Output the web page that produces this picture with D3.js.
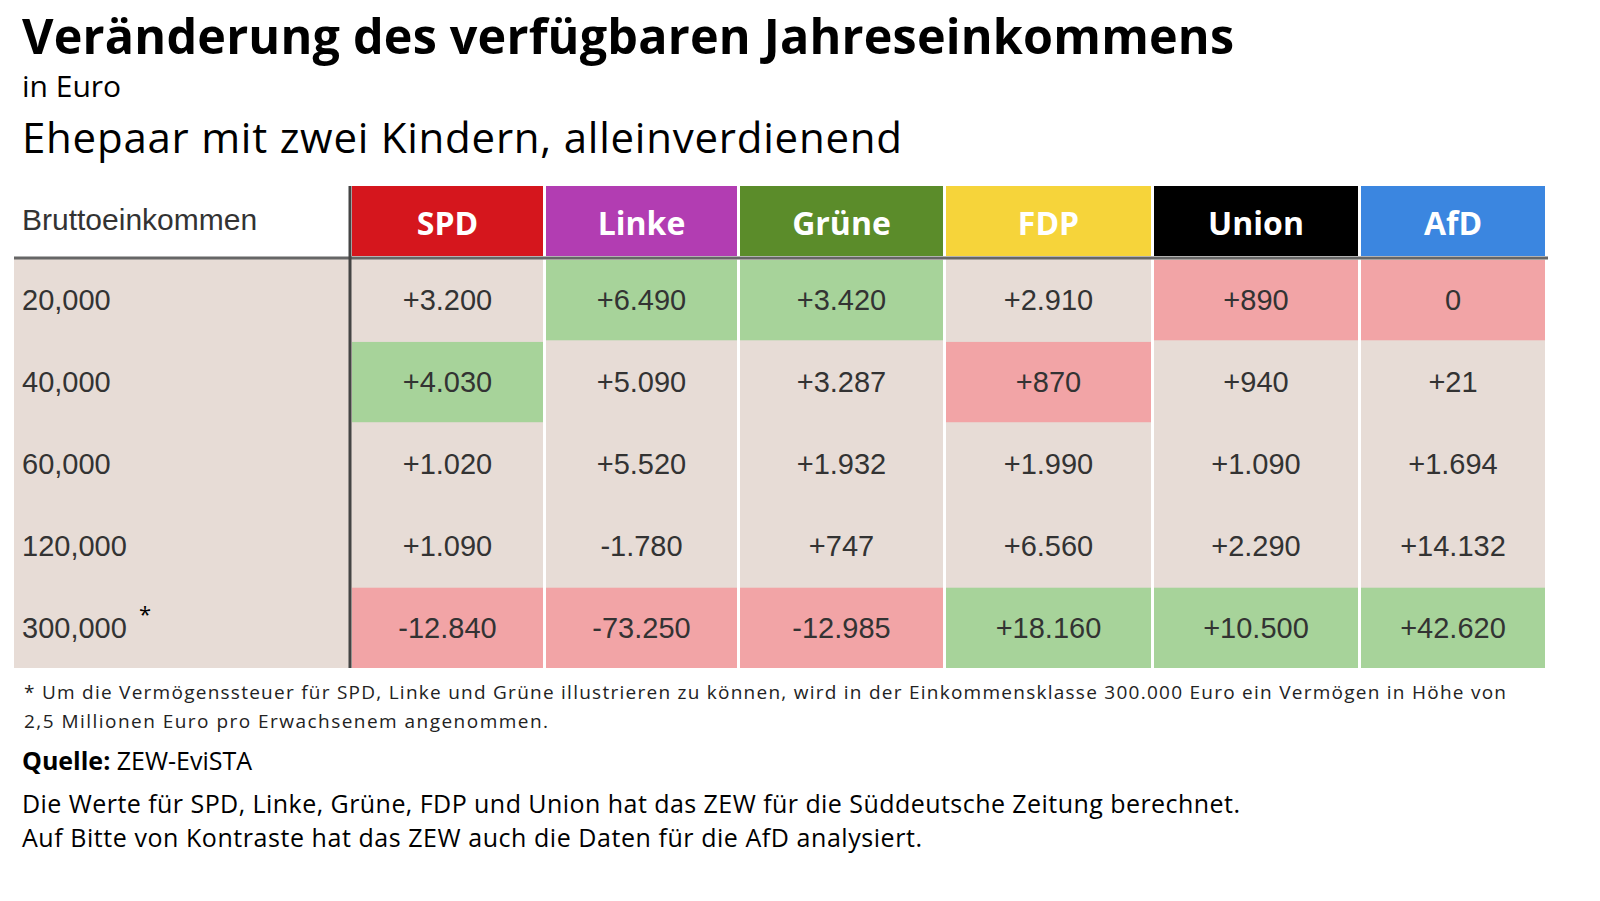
<!DOCTYPE html><html><head><meta charset="utf-8"><script src="https://cdn.jsdelivr.net/npm/d3@7"></script>
<style>body{margin:0;background:#fff}</style></head><body><svg id="c" width="1600" height="901"></svg>
<script>
const parties=["SPD","Linke","Grüne","FDP","Union","AfD"];
const partyColors=["#d5161d","#b23db2","#5b8c2a","#f6d43a","#000000","#3b86e0"];
const incomes=["20,000","40,000","60,000","120,000","300,000"];
const values=[
["+3.200","+6.490","+3.420","+2.910","+890","0"],
["+4.030","+5.090","+3.287","+870","+940","+21"],
["+1.020","+5.520","+1.932","+1.990","+1.090","+1.694"],
["+1.090","-1.780","+747","+6.560","+2.290","+14.132"],
["-12.840","-73.250","-12.985","+18.160","+10.500","+42.620"]];
const marks=[["","g","g","","r","r"],["g","","","r","",""],["","","","","",""],["","","","","",""],["r","r","r","g","g","g"]];
const colEdges=[352,546,740,946,1154,1361,1548];
const svg=d3.select("#c"),F="'Open Sans',sans-serif",A="'Liberation Sans',Arial,sans-serif";
const y=d3.scaleBand().domain(d3.range(5)).range([260,668]).paddingInner(0.02);
svg.append("text").attr("x",22).attr("y",54).attr("font-family",F).attr("font-weight",700).attr("font-size",48.5).attr("textLength",1212).text("Veränderung des verfügbaren Jahreseinkommens");
svg.append("text").attr("x",22).attr("y",97).attr("font-family",F).attr("font-size",30).text("in Euro");
svg.append("text").attr("x",22).attr("y",153).attr("font-family",F).attr("font-size",42).attr("textLength",880).text("Ehepaar mit zwei Kindern, alleinverdienend");
svg.append("rect").attr("x",14).attr("y",258).attr("width",1534).attr("height",410).attr("fill","#e7dcd6");
svg.append("text").attr("x",22).attr("y",230).attr("font-family",A).attr("font-size",30).attr("fill","#333").text("Bruttoeinkommen");
parties.forEach((p,i)=>{
 const x0=colEdges[i],x1=colEdges[i+1]-3;
 svg.append("rect").attr("x",x0).attr("y",186).attr("width",x1-x0).attr("height",70).attr("fill",partyColors[i]);
 svg.append("text").attr("x",(x0+x1)/2).attr("y",235).attr("text-anchor","middle").attr("font-family",F).attr("font-weight",700).attr("font-size",32).attr("fill","#fff").text(p);
 values.forEach((row,r)=>{
  const m=marks[r][i];
  if(m) svg.append("rect").attr("x",x0).attr("y",y(r)).attr("width",x1-x0).attr("height",y.bandwidth()).attr("fill",m=="g"?"#a7d39a":"#f2a4a6");
  svg.append("text").attr("x",(x0+x1)/2).attr("y",y(r)+y.bandwidth()/2+10).attr("text-anchor","middle").attr("font-family",A).attr("font-size",29).attr("fill","#333").text(row[i]);
 });
 svg.append("rect").attr("x",x1).attr("y",258).attr("width",3).attr("height",410).attr("fill","#fff");
});
incomes.forEach((t,r)=>{svg.append("text").attr("x",22).attr("y",y(r)+y.bandwidth()/2+10).attr("font-family",A).attr("font-size",29).attr("fill","#333").text(t);});
svg.append("text").attr("x",139).attr("y",622).attr("font-family",F).attr("font-size",22).text("*");
svg.append("line").attr("x1",14).attr("x2",1548).attr("y1",258).attr("y2",258).attr("stroke","#666").attr("stroke-width",3);
svg.append("line").attr("x1",350).attr("x2",350).attr("y1",186).attr("y2",668).attr("stroke","#444").attr("stroke-width",3);
const small=[["* Um die Vermögenssteuer für SPD, Linke und Grüne illustrieren zu können, wird in der Einkommensklasse 300.000 Euro ein Vermögen in Höhe von",699,1482],["2,5 Millionen Euro pro Erwachsenem angenommen.",728,524]];
small.forEach(s=>svg.append("text").attr("x",24).attr("y",s[1]).attr("font-family",F).attr("font-size",19).attr("textLength",s[2]).attr("fill","#222").text(s[0]));
const q=svg.append("text").attr("x",22).attr("y",770).attr("font-family",F).attr("font-size",25);
q.append("tspan").attr("font-weight",700).text("Quelle:");q.append("tspan").text(" ZEW-EviSTA");
svg.append("text").attr("x",22).attr("y",813).attr("font-family",F).attr("font-size",25).attr("textLength",1218).text("Die Werte für SPD, Linke, Grüne, FDP und Union hat das ZEW für die Süddeutsche Zeitung berechnet.");
svg.append("text").attr("x",22).attr("y",847).attr("font-family",F).attr("font-size",25).attr("textLength",900).text("Auf Bitte von Kontraste hat das ZEW auch die Daten für die AfD analysiert.");
</script></body></html>
